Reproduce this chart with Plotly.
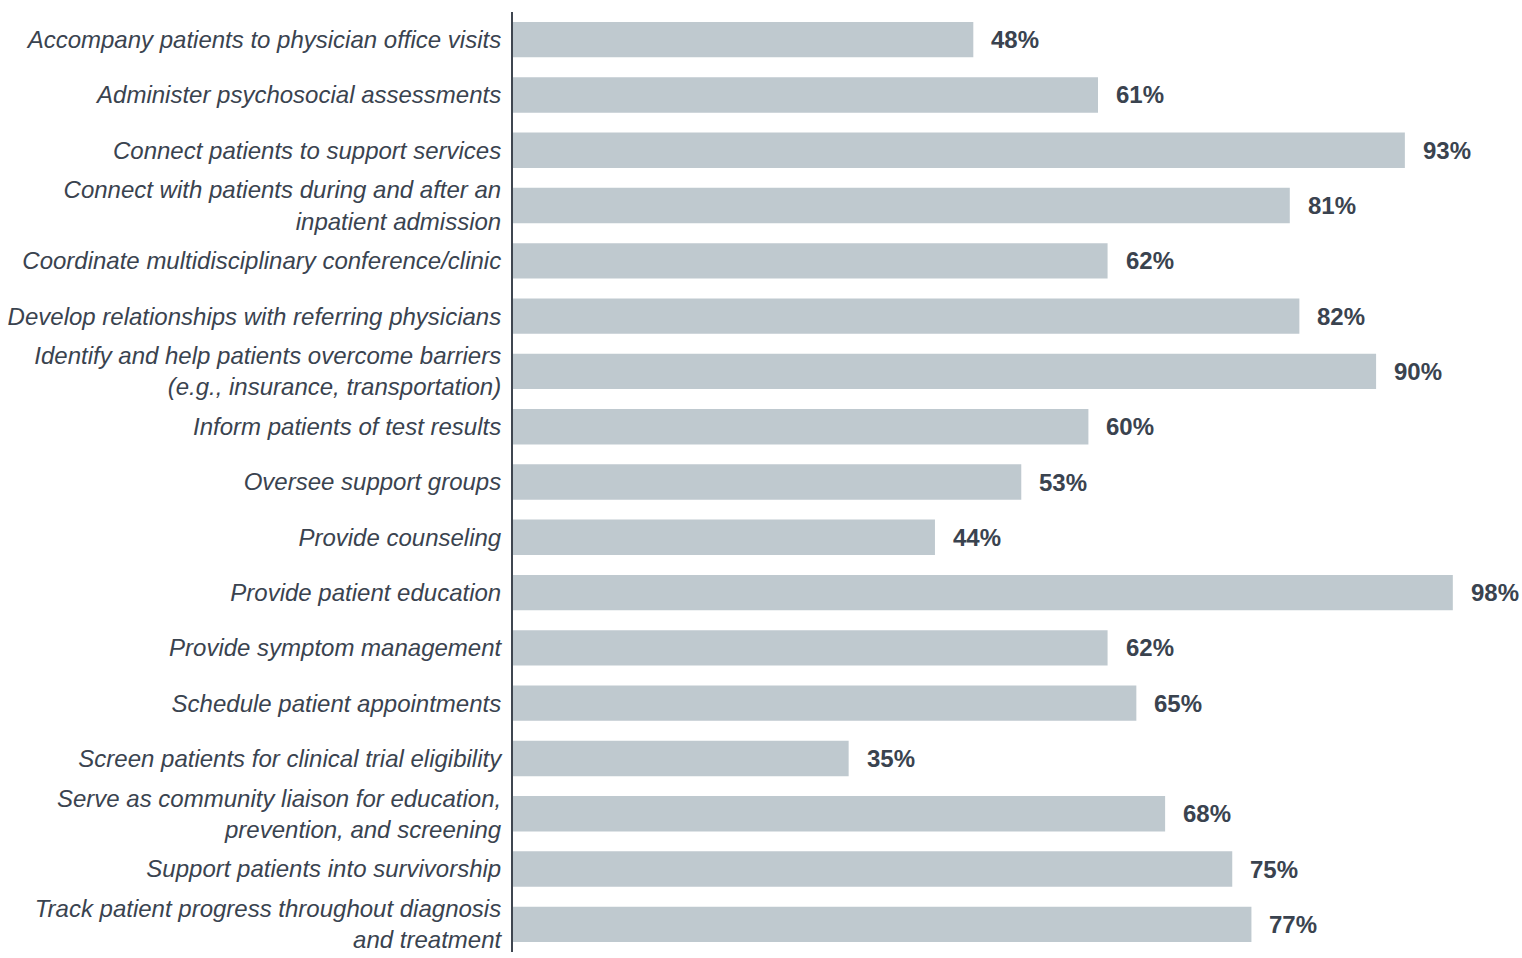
import plotly.graph_objects as go

categories = [
    "Accompany patients to physician office visits",
    "Administer psychosocial assessments",
    "Connect patients to support services",
    "Connect with patients during and after an<br>inpatient admission",
    "Coordinate multidisciplinary conference/clinic",
    "Develop relationships with referring physicians",
    "Identify and help patients overcome barriers<br>(e.g., insurance, transportation)",
    "Inform patients of test results",
    "Oversee support groups",
    "Provide counseling",
    "Provide patient education",
    "Provide symptom management",
    "Schedule patient appointments",
    "Screen patients for clinical trial eligibility",
    "Serve as community liaison for education,<br>prevention, and screening",
    "Support patients into survivorship",
    "Track patient progress throughout diagnosis<br>and treatment",
]
values = [48, 61, 93, 81, 62, 82, 90, 60, 53, 44, 98, 62, 65, 35, 68, 75, 77]

BAR_COLOR = "#BFC9CF"
TEXT_COLOR = "#3A434F"
FONT = "Liberation Sans, Arial, sans-serif"

fig = go.Figure(go.Bar(
    x=values,
    y=categories,
    orientation="h",
    marker=dict(color=BAR_COLOR, line=dict(width=0)),
    hoverinfo="x+y",
))

for c, v in zip(categories, values):
    fig.add_annotation(
        x=v, y=c, text=f"<b>{v}%</b>", showarrow=False,
        xanchor="left", xshift=16, yanchor="middle",
        font=dict(family=FONT, size=24, color=TEXT_COLOR),
    )

fig.update_layout(
    width=1522, height=958,
    margin=dict(l=513, r=50, t=12, b=6),
    paper_bgcolor="white", plot_bgcolor="white",
    bargap=0.36,
    showlegend=False,
    font=dict(family=FONT, color=TEXT_COLOR),
)
fig.update_xaxes(
    range=[0, 100], visible=False, showgrid=False, zeroline=False,
)
fig.update_yaxes(
    autorange="reversed",
    showline=True, linecolor="#3F4650", linewidth=2,
    showgrid=False, zeroline=False,
    ticks="", ticklabelstandoff=5,
    tickfont=dict(family=FONT, size=24, color=TEXT_COLOR, style="italic"),
)

fig.write_html(
    "out.html",
    config={"displayModeBar": False},
    post_script="document.body.style.margin='0';document.body.style.overflow='hidden';",
)
